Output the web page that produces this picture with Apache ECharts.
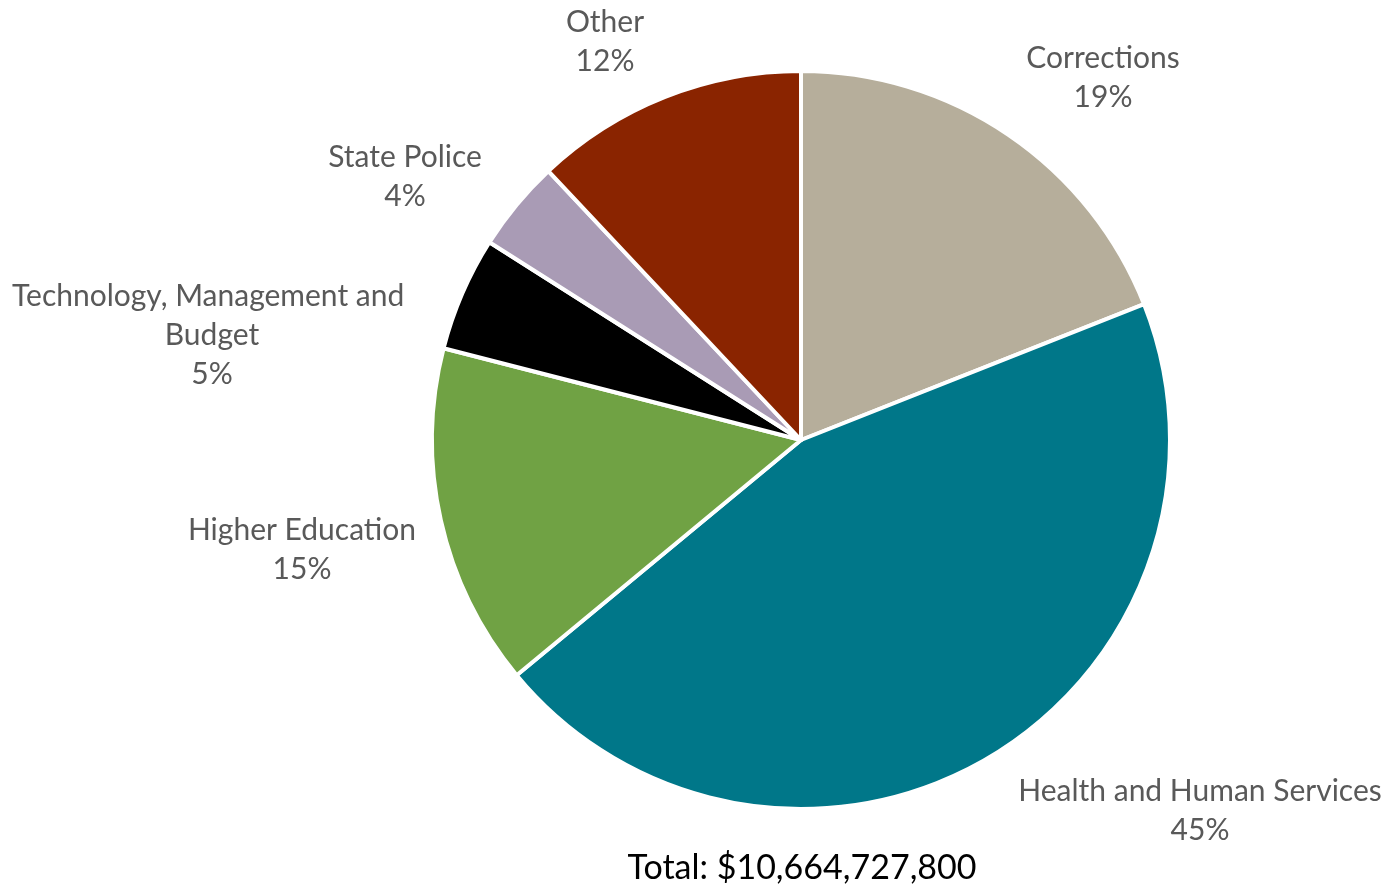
<!DOCTYPE html>
<html>
<head>
<meta charset="utf-8">
<script src="https://cdn.jsdelivr.net/npm/echarts@6/dist/echarts.min.js"></script>
<style>
  html, body { margin: 0; padding: 0; background: #ffffff; }
  #chart { width: 1385px; height: 885px; }
</style>
</head>
<body>
<div id="chart"></div>
<script>
// Budget shares by area (percent of total)
const categories = [
  'Corrections',
  'Health and Human Services',
  'Higher Education',
  'Technology, Management and Budget',
  'State Police',
  'Other'
];
const shares = [19, 45, 15, 5, 4, 12];
const colors = ['#B6AE9B', '#007789', '#70A244', '#000000', '#A99BB5', '#8A2400'];
const totalText = 'Total: $10,664,727,800';

// Label anchor points (centre of each label block), in pixels
const labelAnchors = [
  [1103, 78],
  [1200, 811],
  [302, 550],
  [212, 335],
  [405, 177],
  [605, 42]
];

const FONT = 'Lato, "Open Sans", "Liberation Sans", sans-serif';

const chart = echarts.init(document.getElementById('chart'), null, { renderer: 'canvas' });

const data = categories.map((name, i) => {
  const item = { name: name, value: shares[i], itemStyle: { color: colors[i] } };
  if (name.length > 30) {
    item.label = { width: 430, overflow: 'break' };
  }
  return item;
});

chart.setOption({
  backgroundColor: '#ffffff',
  animation: false,
  series: [{
    type: 'pie',
    center: [801, 440],
    radius: [0, 369],
    startAngle: 90,
    clockwise: true,
    data: data,
    itemStyle: { borderColor: '#ffffff', borderWidth: 4 },
    label: {
      show: true,
      position: 'outside',
      formatter: '{b}\n{d}%',
      color: '#595959',
      fontFamily: FONT,
      fontSize: 30,
      lineHeight: 39,
      align: 'center',
      overflow: 'none'
    },
    labelLine: { show: false },
    labelLayout: function (params) {
      const p = labelAnchors[params.dataIndex];
      return { x: p[0], y: p[1], align: 'center', verticalAlign: 'middle' };
    },
    emphasis: { disabled: true }
  }],
  graphic: [{
    type: 'text',
    x: 802,
    y: 868,
    style: {
      text: totalText,
      fill: '#000000',
      font: '34px ' + FONT,
      align: 'center',
      verticalAlign: 'middle'
    }
  }]
});
</script>
</body>
</html>
